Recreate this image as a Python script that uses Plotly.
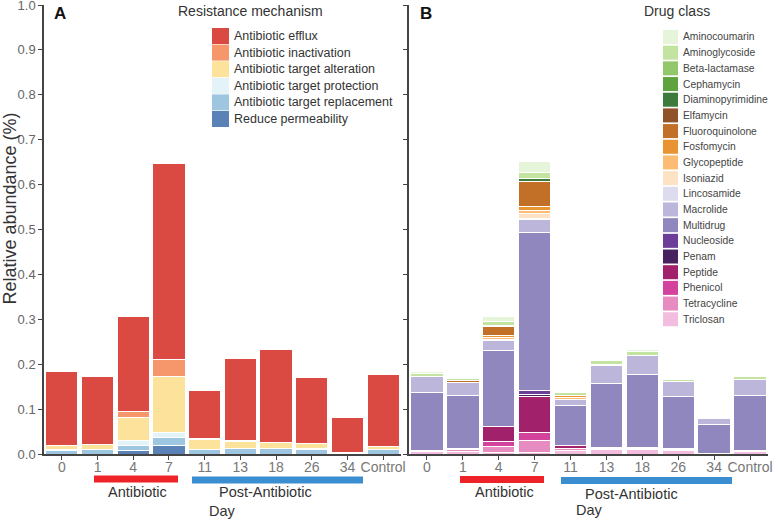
import plotly.graph_objects as go

days = ["0", "1", "4", "7", "11", "13", "18", "26", "34", "Control"]

# Panel A: resistance mechanism (bottom -> top)
mech_names = ["Reduce permeability", "Antibiotic target replacement", "Antibiotic target protection",
              "Antibiotic target alteration", "Antibiotic inactivation", "Antibiotic efflux"]
reduce_perm = [0.000, 0.000, 0.008, 0.019, 0.000, 0.000, 0.000, 0.000, 0.000, 0.000]
target_repl = [0.008, 0.009, 0.011, 0.017, 0.009, 0.012, 0.012, 0.010, 0.001, 0.009]
target_prot = [0.002, 0.002, 0.011, 0.011, 0.002, 0.001, 0.001, 0.003, 0.000, 0.001]
target_alt  = [0.009, 0.011, 0.051, 0.126, 0.021, 0.015, 0.012, 0.010, 0.002, 0.007]
inactivation = [0.001, 0.000, 0.014, 0.037, 0.002, 0.001, 0.000, 0.001, 0.000, 0.000]
efflux      = [0.164, 0.151, 0.212, 0.438, 0.107, 0.184, 0.208, 0.146, 0.078, 0.161]
mech_values = [reduce_perm, target_repl, target_prot, target_alt, inactivation, efflux]
mech_colors = ["#5b82b6", "#9fc6e0", "#e3f3f8", "#fde29c", "#f6966b", "#da4a43"]

# Panel B: drug class (bottom -> top)
triclosan      = [0.005, 0.006, 0.004, 0.004, 0.008, 0.009, 0.009, 0.007, 0.002, 0.005]
tetracycline   = [0.002, 0.003, 0.013, 0.026, 0.004, 0.003, 0.003, 0.003, 0.000, 0.001]
phenicol       = [0.000, 0.000, 0.010, 0.018, 0.000, 0.000, 0.000, 0.000, 0.000, 0.000]
peptide        = [0.001, 0.003, 0.034, 0.079, 0.007, 0.003, 0.003, 0.003, 0.000, 0.001]
penam          = [0.000, 0.000, 0.000, 0.005, 0.000, 0.000, 0.000, 0.000, 0.000, 0.000]
nucleoside     = [0.000, 0.000, 0.000, 0.009, 0.000, 0.000, 0.000, 0.000, 0.000, 0.000]
multidrug      = [0.130, 0.118, 0.169, 0.352, 0.089, 0.143, 0.162, 0.115, 0.063, 0.123]
macrolide      = [0.034, 0.030, 0.022, 0.029, 0.013, 0.039, 0.042, 0.034, 0.013, 0.035]
lincosamide    = [0.000, 0.000, 0.000, 0.002, 0.000, 0.000, 0.000, 0.000, 0.000, 0.000]
isoniazid      = [0.000, 0.000, 0.004, 0.011, 0.001, 0.000, 0.000, 0.000, 0.000, 0.000]
glycopeptide   = [0.000, 0.000, 0.004, 0.008, 0.004, 0.003, 0.000, 0.000, 0.000, 0.000]
fosfomycin     = [0.000, 0.000, 0.005, 0.008, 0.004, 0.000, 0.000, 0.000, 0.000, 0.000]
fluoroquinolone = [0.000, 0.003, 0.019, 0.057, 0.001, 0.000, 0.000, 0.000, 0.000, 0.000]
elfamycin      = [0.000, 0.000, 0.003, 0.000, 0.000, 0.000, 0.000, 0.000, 0.000, 0.000]
diaminopyrimidine = [0.000, 0.000, 0.000, 0.005, 0.000, 0.000, 0.000, 0.000, 0.000, 0.000]
cephamycin     = [0.000, 0.000, 0.000, 0.000, 0.000, 0.000, 0.000, 0.000, 0.000, 0.000]
beta_lactamase = [0.000, 0.000, 0.000, 0.000, 0.000, 0.000, 0.000, 0.000, 0.000, 0.000]
aminoglycoside = [0.008, 0.006, 0.009, 0.013, 0.006, 0.008, 0.010, 0.005, 0.002, 0.007]
aminocoumarin  = [0.003, 0.002, 0.010, 0.026, 0.002, 0.003, 0.003, 0.002, 0.000, 0.003]

drug_names = ["Triclosan", "Tetracycline", "Phenicol", "Peptide", "Penam", "Nucleoside", "Multidrug",
              "Macrolide", "Lincosamide", "Isoniazid", "Glycopeptide", "Fosfomycin", "Fluoroquinolone",
              "Elfamycin", "Diaminopyrimidine", "Cephamycin", "Beta-lactamase", "Aminoglycoside",
              "Aminocoumarin"]
drug_values = [triclosan, tetracycline, phenicol, peptide, penam, nucleoside, multidrug, macrolide,
               lincosamide, isoniazid, glycopeptide, fosfomycin, fluoroquinolone, elfamycin,
               diaminopyrimidine, cephamycin, beta_lactamase, aminoglycoside, aminocoumarin]
drug_colors = ["#f3bde0", "#e68cc0", "#d3429c", "#a1216b", "#48215f", "#6d3e98", "#8f87bd",
               "#bbb6da", "#dcdcee", "#fde3c4", "#fcbc73", "#e99333", "#c27028", "#8f5229",
               "#3c7b3b", "#5fa33f", "#93c76b", "#c3e4a0", "#e6f5d9"]

y_ticks = [0.0, 0.1, 0.2, 0.3, 0.4, 0.5, 0.6, 0.7, 0.8, 0.9, 1.0]

FONT = "Liberation Sans, Arial, Helvetica, sans-serif"
W, H = 778, 520
ML, MR, MT, MB = 44, 10, 5, 66
PW = W - ML - MR
PH = H - MT - MB


def xp(px):
    return (px - ML) / PW


def yp(py):
    return (H - MB - py) / PH


fig = go.Figure()
for name, vals, col in zip(mech_names, mech_values, mech_colors):
    fig.add_trace(go.Bar(x=days, y=vals, name=name, marker=dict(color=col, line=dict(color="white", width=1)),
                         xaxis="x", yaxis="y", showlegend=False))
for name, vals, col in zip(drug_names, drug_values, drug_colors):
    fig.add_trace(go.Bar(x=days, y=vals, name=name, marker=dict(color=col, line=dict(color="white", width=1)),
                         xaxis="x2", yaxis="y2", showlegend=False))

axis_common = dict(showline=True, linecolor="#444", linewidth=1.5, ticks="outside", tickcolor="#444",
                   ticklen=4, showgrid=False, zeroline=False, automargin=False)

fig.update_layout(
    width=W, height=H, margin=dict(l=ML, r=MR, t=MT, b=MB, autoexpand=False),
    paper_bgcolor="white", plot_bgcolor="white", showlegend=False,
    barmode="stack", bargap=0.1,
    font=dict(family=FONT, color="#333"),
    xaxis=dict(domain=[0, 357 / PW], type="category", range=[-0.5, 9.5], ticklabelstandoff=-5,
               tickfont=dict(size=14, color="#777"), **axis_common),
    xaxis2=dict(domain=[(409 - ML) / PW, 1], type="category", range=[-0.5, 9.5], anchor="y2",
                ticklabelstandoff=-5, tickfont=dict(size=14, color="#777"), **axis_common),
    yaxis=dict(range=[0, 1.0], tickvals=y_ticks, tickformat=".1f", anchor="x",
               ticklabeloverflow="allow",
               tickfont=dict(size=13, color="#666"), **axis_common),
    yaxis2=dict(range=[0, 1.0], tickvals=y_ticks, showticklabels=False, anchor="x2",
                **axis_common),
)

shapes = []
ann = []

# y title
ann.append(dict(text="Relative abundance (%)", x=xp(9.5), y=yp(209), xref="paper", yref="paper",
                textangle=-90, showarrow=False, font=dict(size=18, color="#333"),
                xanchor="center", yanchor="middle"))
# panel letters
ann.append(dict(text="<b>A</b>", x=xp(52), y=yp(13), xref="paper", yref="paper", showarrow=False,
                font=dict(size=17, color="#111"), xanchor="left", yanchor="middle"))
ann.append(dict(text="<b>B</b>", x=xp(418), y=yp(13), xref="paper", yref="paper", showarrow=False,
                font=dict(size=17, color="#111"), xanchor="left", yanchor="middle"))
# legend titles
ann.append(dict(text="Resistance mechanism", x=xp(250), y=yp(11), xref="paper", yref="paper",
                showarrow=False, font=dict(size=14, color="#333"), xanchor="center", yanchor="middle"))
ann.append(dict(text="Drug class", x=xp(677), y=yp(11), xref="paper", yref="paper",
                showarrow=False, font=dict(size=14, color="#333"), xanchor="center", yanchor="middle"))

# legend A (top -> bottom: efflux first)
for i, (name, col) in enumerate(zip(mech_names[::-1], mech_colors[::-1])):
    cy = 36 + i * 16.6
    shapes.append(dict(type="rect", xref="paper", yref="paper", x0=xp(212), x1=xp(229),
                       y0=yp(cy - 8), y1=yp(cy + 8), fillcolor=col, line=dict(width=0)))
    ann.append(dict(text=name, x=xp(232), y=yp(cy), xref="paper", yref="paper", showarrow=False,
                    font=dict(size=12.5, color="#333"), xanchor="left", yanchor="middle"))

# legend B
for i, (name, col) in enumerate(zip(drug_names[::-1], drug_colors[::-1])):
    cy = 37 + i * 15.68
    shapes.append(dict(type="rect", xref="paper", yref="paper", x0=xp(663), x1=xp(678),
                       y0=yp(cy - 7), y1=yp(cy + 7), fillcolor=col, line=dict(width=0)))
    ann.append(dict(text=name, x=xp(681), y=yp(cy), xref="paper", yref="paper", showarrow=False,
                    font=dict(size=10.3, color="#444"), xanchor="left", yanchor="middle"))

# phase bars and labels
RED, BLUE = "#ee2229", "#3b8ed0"
for (x0, x1, y0, y1, c) in [(94, 178, 475.5, 482.5, RED), (192, 363, 476.5, 483.5, BLUE),
                            (460, 544, 476, 483, RED), (561, 732, 477, 484, BLUE)]:
    shapes.append(dict(type="rect", xref="paper", yref="paper", x0=xp(x0), x1=xp(x1),
                       y0=yp(y1), y1=yp(y0), fillcolor=c, line=dict(width=0)))
for (txt, cx, cy) in [("Antibiotic", 137, 492), ("Post-Antibiotic", 265, 492), ("Day", 222, 511),
                      ("Antibiotic", 504, 492), ("Post-Antibiotic", 631, 494), ("Day", 589, 510)]:
    ann.append(dict(text=txt, x=xp(cx), y=yp(cy), xref="paper", yref="paper", showarrow=False,
                    font=dict(size=14.5, color="#333"), xanchor="center", yanchor="middle"))

fig.update_layout(shapes=shapes, annotations=ann)
fig.write_html("out.html", config={"displayModeBar": False},
               post_script="document.body.style.margin='0';document.body.style.padding='0';")
